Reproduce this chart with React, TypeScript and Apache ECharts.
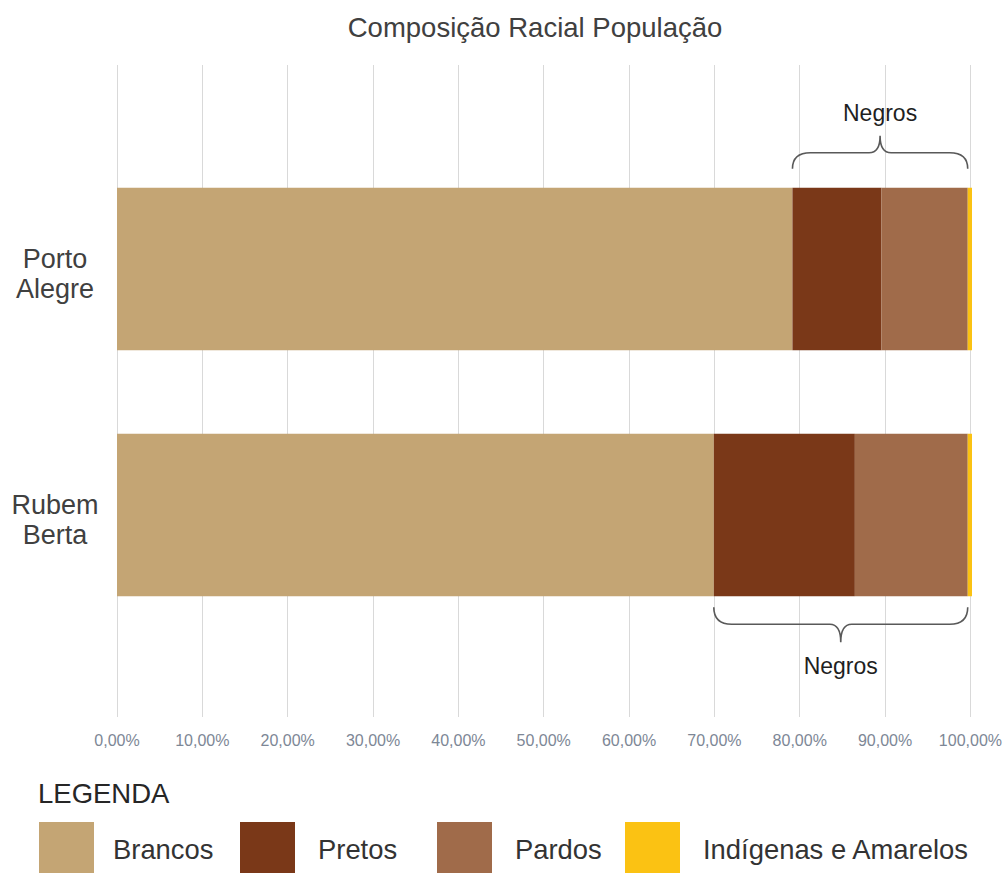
import React, { useEffect, useRef } from "react";
import * as echarts from "echarts";

const categories = ["Porto Alegre", "Rubem Berta"];
const seriesNames = ["Brancos", "Pretos", "Pardos", "Indígenas e Amarelos"];
const brancos = [79.0, 69.8];
const pretos = [10.4, 16.5];
const pardos = [10.1, 13.2];
const indigenasAmarelos = [0.5, 0.5];
const xTicks = [0, 10, 20, 30, 40, 50, 60, 70, 80, 90, 100];
const titleText = "Composição Racial População";
const legendTitle = "LEGENDA";
const braceLabel = "Negros";
// side of the brace for each category: -1 above the bar, 1 below
const braceSide = [-1, 1];

const colors = ["#C4A574", "#7A3818", "#A06B4A", "#FBC213"];
const FONT = '"Liberation Sans", Arial, sans-serif';

export default function App() {
  const ref = useRef<HTMLDivElement>(null);

  useEffect(() => {
    if (!ref.current) return;
    const chart = echarts.init(ref.current, null, { renderer: "svg" });
    const values = [brancos, pretos, pardos, indigenasAmarelos];
    const barGapRatio = 0.34;

    const braceData = categories.map((_, i) => [
      brancos[i],
      brancos[i] + pretos[i] + pardos[i],
      i,
      braceSide[i],
    ]);

    const legendLefts = [39, 240, 437, 625];
    const legendTextGap = [14, 18, 18, 18];

    const option: any = {
      animation: false,
      textStyle: { fontFamily: FONT },
      title: [
        {
          text: titleText,
          left: 535,
          textAlign: "center",
          top: 13,
          padding: 0,
          textStyle: { fontFamily: FONT, fontSize: 27.5, fontWeight: "normal", color: "#404040" },
        },
        {
          text: legendTitle,
          left: 38,
          top: 779,
          padding: 0,
          textStyle: { fontFamily: FONT, fontSize: 27.5, fontWeight: "normal", color: "#262626" },
        },
      ],
      legend: seriesNames.map((n, i) => ({
        data: [n],
        left: legendLefts[i],
        top: 822,
        padding: 0,
        itemWidth: 55,
        itemHeight: 55,
        icon: "rect",
        selectedMode: false,
        textStyle: {
          fontFamily: FONT,
          fontSize: 27.4,
          color: "#333333",
          padding: [0, 0, 0, legendTextGap[i]],
        },
      })),
      grid: [
        { left: 117, right: 33, top: 65, height: 652 },
        { left: 117, right: 33, top: 146, height: 492 },
      ],
      xAxis: [
        {
          type: "value",
          gridIndex: 0,
          min: xTicks[0],
          max: xTicks[xTicks.length - 1],
          interval: xTicks[1] - xTicks[0],
          axisLine: { show: false },
          axisTick: { show: false },
          splitLine: { show: true, lineStyle: { color: "#D9D9D9", width: 1 } },
          axisLabel: {
            margin: 15,
            fontFamily: FONT,
            fontSize: 16,
            color: "#7D8796",
            formatter: (v: number) => v.toFixed(2).replace(".", ",") + "%",
          },
        },
        {
          type: "value",
          gridIndex: 1,
          min: xTicks[0],
          max: xTicks[xTicks.length - 1],
          show: false,
          splitLine: { show: false },
        },
      ],
      yAxis: [
        { type: "value", gridIndex: 0, show: false, splitLine: { show: false } },
        {
          type: "category",
          gridIndex: 1,
          inverse: true,
          data: categories,
          axisLine: { show: false },
          axisTick: { show: false },
          axisLabel: {
            margin: 62,
            align: "center",
            fontFamily: FONT,
            fontSize: 27,
            lineHeight: 30,
            color: "#404040",
            formatter: (v: string) => "{s|}\n" + v.split(" ").map((w) => "{t|" + w + "}").join("\n"),
            rich: {
              s: { height: 10, lineHeight: 10, fontSize: 10 },
              t: { fontFamily: FONT, fontSize: 27, lineHeight: 30, color: "#404040" },
            },
          },
        },
      ],
      series: [
        ...seriesNames.map((n, si) => ({
          name: n,
          type: "bar",
          stack: "total",
          xAxisIndex: 1,
          yAxisIndex: 1,
          barCategoryGap: barGapRatio * 100 + "%",
          itemStyle: { color: colors[si] },
          emphasis: { disabled: true },
          data: values[si],
        })),
        {
          name: "braces",
          type: "custom",
          xAxisIndex: 1,
          yAxisIndex: 1,
          clip: false,
          silent: true,
          data: braceData,
          renderItem: (params: any, api: any) => {
            const x1v = api.value(0);
            const x2v = api.value(1);
            const cat = api.value(2);
            const side = api.value(3);
            const p1 = api.coord([x1v, cat]);
            const p2 = api.coord([x2v, cat]);
            const band = api.size([0, 1])[1];
            const half = (band * (1 - barGapRatio)) / 2;
            const x1 = p1[0];
            const x2 = p2[0];
            const mid = (x1 + x2) / 2;
            let base: number, yEnd: number, yH: number, yTip: number, yText: number;
            if (side < 0) {
              base = p1[1] - half;
              yEnd = base - 19;
              yH = base - 35;
              yTip = base - 52;
              yText = base - 75;
            } else {
              base = p1[1] + half;
              yEnd = base + 11;
              yH = base + 28;
              yTip = base + 46;
              yText = base + 70;
            }
            const r = 18;
            const r2 = 11;
            const d =
              `M${x1},${yEnd} Q${x1},${yH} ${x1 + r},${yH} L${mid - r2},${yH} ` +
              `Q${mid},${yH} ${mid},${yTip} Q${mid},${yH} ${mid + r2},${yH} ` +
              `L${x2 - r},${yH} Q${x2},${yH} ${x2},${yEnd}`;
            return {
              type: "group",
              children: [
                {
                  type: "path",
                  shape: { pathData: d },
                  style: { fill: "none", stroke: "#595959", lineWidth: 1.6 },
                },
                {
                  type: "text",
                  style: {
                    text: braceLabel,
                    x: mid,
                    y: yText,
                    align: "center",
                    verticalAlign: "middle",
                    font: `23px ${FONT}`,
                    fill: "#1F1F1F",
                  },
                },
              ],
            };
          },
        },
      ],
    };

    chart.setOption(option);
    return () => chart.dispose();
  }, []);

  return (
    <div
      ref={ref}
      style={{ position: "absolute", left: 0, top: 0, width: 1005, height: 873, background: "#ffffff" }}
    />
  );
}
